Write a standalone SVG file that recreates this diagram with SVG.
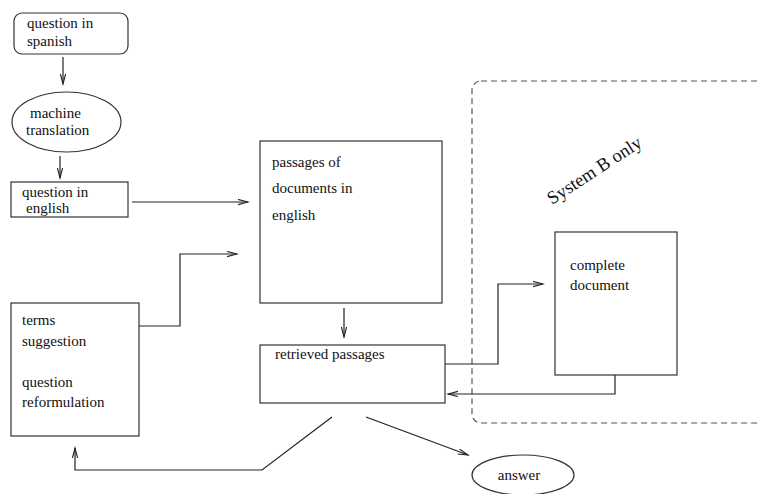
<svg xmlns="http://www.w3.org/2000/svg" width="758" height="494" viewBox="0 0 758 494">
  <style>
    .box { fill: none; stroke: #333; stroke-width: 1.2; }
    .wire { fill: none; stroke: #222; stroke-width: 1.2; }
    .dash { fill: none; stroke: #555; stroke-width: 1.2; stroke-dasharray: 6 4; }
    text { font-family: "Liberation Serif", "Times New Roman", serif; font-size: 15px; fill: #111; }
    .big { font-size: 18.5px; }
  </style>
  <defs>
    <marker id="arrow" markerUnits="userSpaceOnUse" markerWidth="12" markerHeight="8" refX="10" refY="3" orient="auto">
      <path d="M0,0.4 L10,3 L0,5.6" fill="none" stroke="#222" stroke-width="1.1"/>
    </marker>
  </defs>

  <rect width="758" height="494" fill="#fff"/>

  <!-- optional region -->
  <g id="system-b">
    <rect class="dash" x="472" y="81" width="310" height="342" rx="9" ry="9"/>
    <text class="big" transform="translate(552,205) rotate(-33)">System B only</text>
  </g>

  <g id="question-spanish">
    <rect class="box" x="14" y="13" width="114" height="41" rx="8" ry="8"/>
    <text x="27" y="28">question in</text>
    <text x="27" y="46">spanish</text>
  </g>

  <g id="machine-translation">
    <ellipse class="box" cx="66.5" cy="122" rx="54.5" ry="30"/>
    <text x="30" y="118">machine</text>
    <text x="26" y="135">translation</text>
  </g>

  <g id="question-english">
    <rect class="box" x="11" y="182" width="117" height="35"/>
    <text x="22" y="197">question in</text>
    <text x="26" y="213">english</text>
  </g>

  <g id="passages">
    <rect class="box" x="260" y="141" width="182" height="162"/>
    <text x="272" y="167">passages of</text>
    <text x="272" y="193">documents in</text>
    <text x="272" y="220">english</text>
  </g>

  <g id="terms">
    <rect class="box" x="11" y="303" width="128" height="133"/>
    <text x="22" y="325">terms</text>
    <text x="22" y="346">suggestion</text>
    <text x="22" y="387">question</text>
    <text x="22" y="407">reformulation</text>
  </g>

  <g id="retrieved">
    <rect class="box" x="260" y="345" width="185" height="58"/>
    <text x="275" y="359">retrieved passages</text>
  </g>

  <g id="complete-document">
    <rect class="box" x="555" y="232" width="122" height="143"/>
    <text x="570" y="270">complete</text>
    <text x="570" y="290">document</text>
  </g>

  <g id="answer">
    <ellipse class="box" cx="523" cy="475" rx="51" ry="20"/>
    <text x="519" y="480" text-anchor="middle">answer</text>
  </g>

  <g id="connectors">
    <line class="wire" x1="63" y1="57" x2="63" y2="84" marker-end="url(#arrow)"/>
    <line class="wire" x1="60" y1="156" x2="60" y2="178" marker-end="url(#arrow)"/>
    <line class="wire" x1="132" y1="202" x2="248" y2="202" marker-end="url(#arrow)"/>
    <polyline class="wire" points="139,326 180,326 180,254 237,254" marker-end="url(#arrow)"/>
    <line class="wire" x1="344" y1="308" x2="344" y2="337" marker-end="url(#arrow)"/>
    <polyline class="wire" points="445,364 498,364 498,284 543,284" marker-end="url(#arrow)"/>
    <polyline class="wire" points="615,375 615,394 448,394" marker-end="url(#arrow)"/>
    <polyline class="wire" points="332,417 262,470 75,470 75,448" marker-end="url(#arrow)"/>
    <line class="wire" x1="366" y1="417" x2="468" y2="455" marker-end="url(#arrow)"/>
  </g>
</svg>
